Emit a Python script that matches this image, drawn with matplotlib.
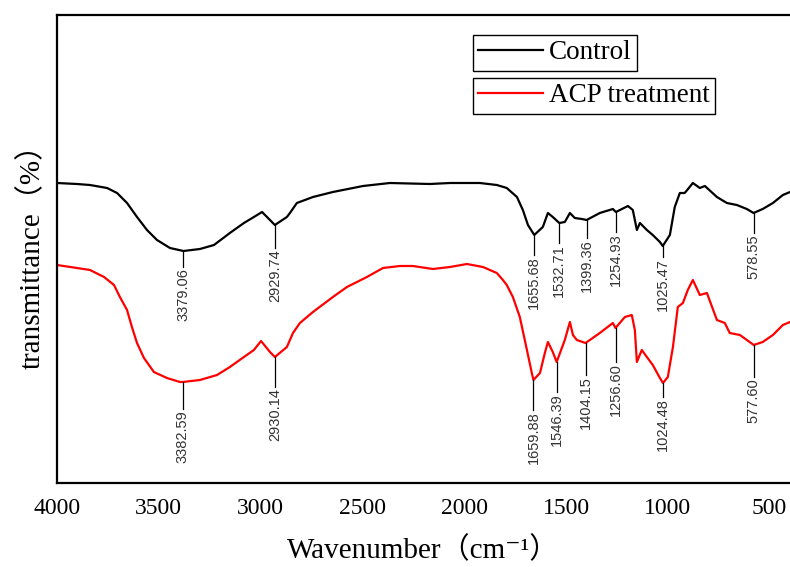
import matplotlib
matplotlib.use('Agg')
import matplotlib.pyplot as plt
import numpy as np

plt.rcParams['font.family'] = ['Liberation Serif', 'Noto Sans CJK SC', 'DejaVu Sans']

# spectra (wavenumber cm-1, relative transmittance a.u.)
wn_control = [4000, 3902, 3838, 3754, 3705, 3656, 3607, 3558, 3509, 3445, 3379, 3298,
              3229, 3151, 3082, 3033, 2993, 2954, 2930, 2871, 2856, 2822, 2743, 2645,
              2497, 2365, 2169, 2070, 1923, 1840, 1791, 1741, 1712, 1687, 1656, 1614,
              1589, 1565, 1533, 1506, 1481, 1457, 1422, 1399, 1334, 1270, 1255, 1196,
              1172, 1152, 1137, 1103, 1074, 1039, 1025, 990, 966, 941, 917, 877, 843,
              818, 759, 710, 661, 612, 579, 534, 484, 435, 400]
t_control = [300, 299, 298, 295, 290, 280, 266, 253, 243, 235, 232, 234,
             238, 250, 260, 266, 271, 263, 258, 266, 270, 280, 286, 291,
             297, 300, 299, 300, 300, 298, 295, 286, 273, 258, 248, 256,
             270, 266, 260, 261, 270, 265, 264, 263, 270, 274, 271, 277,
             273, 253, 260, 253, 248, 241, 237, 248, 276, 290, 290, 300, 295,
             297, 286, 280, 278, 274, 270, 274, 280, 288, 291]

wn_acp = [4000, 3902, 3838, 3769, 3720, 3691, 3656, 3632, 3607, 3573, 3524, 3460,
          3396, 3383, 3298, 3214, 3151, 3082, 3033, 2998, 2954, 2930, 2871, 2841,
          2807, 2743, 2645, 2576, 2478, 2399, 2316, 2252, 2154, 2070, 1987, 1908,
          1840, 1810, 1791, 1761, 1727, 1692, 1668, 1660, 1628, 1604, 1589, 1565,
          1546, 1506, 1481, 1466, 1447, 1404, 1334, 1270, 1257, 1211, 1177, 1162,
          1152, 1128, 1103, 1074, 1039, 1024, 1000, 975, 951, 926, 902, 877, 843,
          808, 759, 720, 696, 646, 578, 534, 484, 435, 400]
t_acp = [218, 215, 213, 206, 198, 186, 173, 156, 140, 125, 111, 105,
         101, 101, 103, 108, 116, 126, 133, 142, 131, 126, 136, 150,
         160, 171, 186, 196, 206, 215, 217, 217, 214, 216, 219, 216,
         210, 203, 198, 186, 166, 133, 110, 103, 110, 130, 141, 131,
         121, 143, 161, 148, 143, 140, 150, 160, 155, 166, 168, 153,
         121, 133, 126, 118, 105, 100, 106, 136, 176, 180, 193, 203, 188,
         190, 163, 160, 150, 148, 138, 141, 148, 158, 161]

# peak labels and where each leader line ends
peaks_control = [3379.06, 2929.74, 1655.68, 1532.71, 1399.36, 1254.93, 1025.47, 578.55]
ends_control = [216, 235, 228, 240, 245, 251, 226, 250]
peaks_acp = [3382.59, 2930.14, 1659.88, 1546.39, 1404.15, 1256.60, 1024.48, 577.60]
ends_acp = [74, 96, 73, 91, 108, 121, 86, 106]

fig = plt.figure(figsize=(7.9, 5.67), dpi=100)
ax = fig.add_axes([57/790, 1 - 483/567, 1 - 57/790, 468/567])

l1, = ax.plot(wn_control, t_control, color='black', lw=1.6)
l2, = ax.plot(wn_acp, t_acp, color='red', lw=1.6)

def mark(wn, t, peaks, ends):
    for p, e in zip(peaks, ends):
        y0 = np.interp(p, wn[::-1], t[::-1])
        ax.plot([p, p], [y0, e], color='black', lw=0.9)
        ax.text(p, e - 1, '%.2f' % p, rotation=90, ha='center', va='top',
                fontsize=10.5, family='Liberation Sans', color='#333333')

mark(wn_control, t_control, peaks_control, ends_control)
mark(wn_acp, t_acp, peaks_acp, ends_acp)

ax.set_xlim(4000, 400)
ax.set_ylim(0, 468)
ax.set_xticks([4000, 3500, 3000, 2500, 2000, 1500, 1000, 500])
ax.set_yticks([])
ax.tick_params(axis='x', length=0, pad=11, labelsize=17)
for s in ['left', 'bottom', 'top']:
    ax.spines[s].set_linewidth(1.6)
ax.spines['right'].set_visible(False)

ax.set_xlabel('Wavenumber（cm⁻¹）', fontsize=21, labelpad=12)
ax.set_ylabel('transmittance（%）', fontsize=21, labelpad=8)

leg_kw = dict(loc='upper left', frameon=True, fancybox=False, framealpha=1,
              edgecolor='black', borderpad=0.2, handlelength=2.4,
              handletextpad=0.2, borderaxespad=0, prop={'size': 19.5})
leg1 = ax.legend([l1], ['Control'], bbox_to_anchor=(473/790, 1 - 35/567),
                 bbox_transform=fig.transFigure, **leg_kw)
leg1.get_frame().set_linewidth(1.0)
ax.add_artist(leg1)
leg2 = ax.legend([l2], ['ACP treatment'], bbox_to_anchor=(473/790, 1 - 78/567),
                 bbox_transform=fig.transFigure, **leg_kw)
leg2.get_frame().set_linewidth(1.0)

fig.savefig('out.png', dpi=100)
